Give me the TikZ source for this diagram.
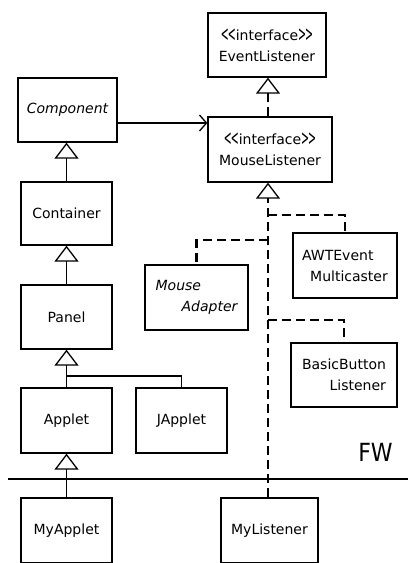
\documentclass[tikz,border=0pt]{standalone}
\usepackage{fontspec}
\setmainfont{DejaVu Sans}
\usetikzlibrary{arrows.meta}
\newcommand{\angl}{\raisebox{-1.2pt}{\scalebox{0.68}[1.55]{\mbox{<}}}}
\newcommand{\angr}{\raisebox{-1.2pt}{\scalebox{0.68}[1.55]{\mbox{>}}}}
\newcommand{\ifc}{\angl\kern-1pt\angl interface\angr\kern-1pt\angr}
\tikzset{
  box/.style={draw, line width=1.3pt, inner sep=0pt, font=\fontsize{14}{21}\selectfont},
  gen/.style={line width=1.3pt, -{Triangle[open, length=16pt, width=24pt, line width=1.3pt]}},
  dgen/.style={line width=2.3pt, dash pattern=on 9pt off 5pt, -{Triangle[open, length=16pt, width=24pt, line width=1.3pt]}},
  dline/.style={line width=2.3pt, dash pattern=on 9pt off 5pt},
  sline/.style={line width=1.3pt},
  assoc/.style={line width=1.3pt, -{Straight Barb[length=7pt, width=16pt, line width=1.3pt]}}
}
\begin{document}
\begin{tikzpicture}[x=1pt, y=-1pt]
\clip (0,0) rectangle (408,563);
\fill[white] (0,0) rectangle (408,563);
% nodes
\node[box, minimum width=118pt, minimum height=64pt, align=center] (EL) at (267,45) {\ifc\\EventListener};
\node[box, minimum width=99pt, minimum height=64pt] (Comp) at (67.5,110) {\itshape Component};
\node[box, minimum width=124pt, minimum height=65pt, align=center] (ML) at (270,149.5) {\ifc\\MouseListener};
\node[box, minimum width=91pt, minimum height=63pt] (Cont) at (66.5,213.5) {Container};
\node[box, minimum width=91pt, minimum height=64pt] (Panel) at (66.5,317) {Panel};
\node[box, minimum width=91pt, minimum height=65pt] (Applet) at (66.5,420.5) {Applet};
\node[box, minimum width=91pt, minimum height=65pt] (JApplet) at (181.5,420.5) {JApplet};
\node[box, minimum width=91pt, minimum height=65pt] (MyApplet) at (66.5,530.5) {MyApplet};
\node[box, minimum width=97pt, minimum height=65pt] (MyL) at (269.5,530.5) {MyListener};
\node[box, minimum width=103pt, minimum height=65pt, align=left] (MA) at (196.5,297.5) {\itshape Mouse\\\hspace*{26pt}\itshape Adapter};
\node[box, minimum width=104pt, minimum height=65pt, align=left] (AWT) at (345,265.5) {AWTEvent\\\hspace*{8pt}Multicaster};
\node[box, minimum width=106pt, minimum height=64pt, align=right] (BBL) at (344,375) {BasicButton\\Listener};
\node[font=\fontsize{25}{25}\selectfont, inner sep=0pt] (FW) at (375.5,452) {\scalebox{0.88}[1]{FW}};
% framework line
\coordinate (fwl) at (8,479);
\coordinate (fwr) at (408,479);
\draw[line width=1.3pt] (fwl) -- (fwr);
% spine x for listener interfaces
\coordinate (sp) at (268,0);
% generalizations
\draw[gen] (Cont.north) -- (Cont.north |- Comp.south);
\draw[gen] (Panel.north) -- (Panel.north |- Cont.south);
\coordinate (jn) at (66.5,376);
\draw[sline] (JApplet.north) |- (jn);
\draw[gen] (Applet.north) -- (Panel.south);
\draw[gen] (MyApplet.north) -- (Applet.south);
% association
\draw[assoc] ([yshift=-13pt]Comp.east) -- ([yshift=-13pt]Comp.east -| ML.west);
% interface realizations
\draw[dgen] (ML.north -| sp) -- (EL.south -| sp);
\draw[dgen] (MyL.north -| sp) -- (ML.south -| sp);
\coordinate (bAWT) at (268,215);
\coordinate (bMA) at (268,240);
\coordinate (bBBL) at (268,320);
\draw[dline] (bAWT) -| (AWT.north);
\draw[dline] (bMA) -| (MA.north);
\draw[dline] (bBBL) -| (BBL.north);
\end{tikzpicture}
\end{document}
